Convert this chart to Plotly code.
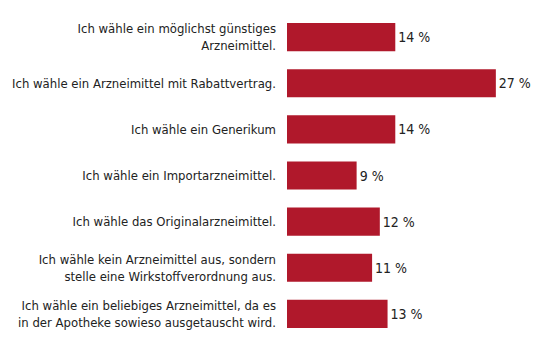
import plotly.graph_objects as go

categories = [
    "Ich wähle ein möglichst günstiges<br>Arzneimittel.",
    "Ich wähle ein Arzneimittel mit Rabattvertrag.",
    "Ich wähle ein Generikum",
    "Ich wähle ein Importarzneimittel.",
    "Ich wähle das Originalarzneimittel.",
    "Ich wähle kein Arzneimittel aus, sondern<br>stelle eine Wirkstoffverordnung aus.",
    "Ich wähle ein beliebiges Arzneimittel, da es<br>in der Apotheke sowieso ausgetauscht wird.",
]
values = [14, 27, 14, 9, 12, 11, 13]
value_labels = [f"{v} %" for v in values]

FONT = "DejaVu Sans Condensed, Roboto, sans-serif"

fig = go.Figure(go.Bar(
    x=values,
    y=categories,
    orientation="h",
    marker=dict(color="#B0182B", line=dict(width=0)),
    text=value_labels,
    textposition="outside",
    textfont=dict(family=FONT, size=14, color="#222222"),
    cliponaxis=False,
    width=0.61,
))

fig.update_layout(
    width=550, height=353,
    margin=dict(l=287, r=0, t=14, b=16, autoexpand=False),
    paper_bgcolor="white", plot_bgcolor="white",
    showlegend=False,
    font=dict(family=FONT, size=13, color="#222222"),
    xaxis=dict(range=[0, 34.0], visible=False, showgrid=False, zeroline=False,
               automargin=False),
    yaxis=dict(autorange="reversed", showgrid=False, zeroline=False, showline=False,
               ticks="", ticklabelstandoff=10, automargin=False,
               tickfont=dict(family=FONT, size=13, color="#222222")),
)

fig.write_html("out.html")
